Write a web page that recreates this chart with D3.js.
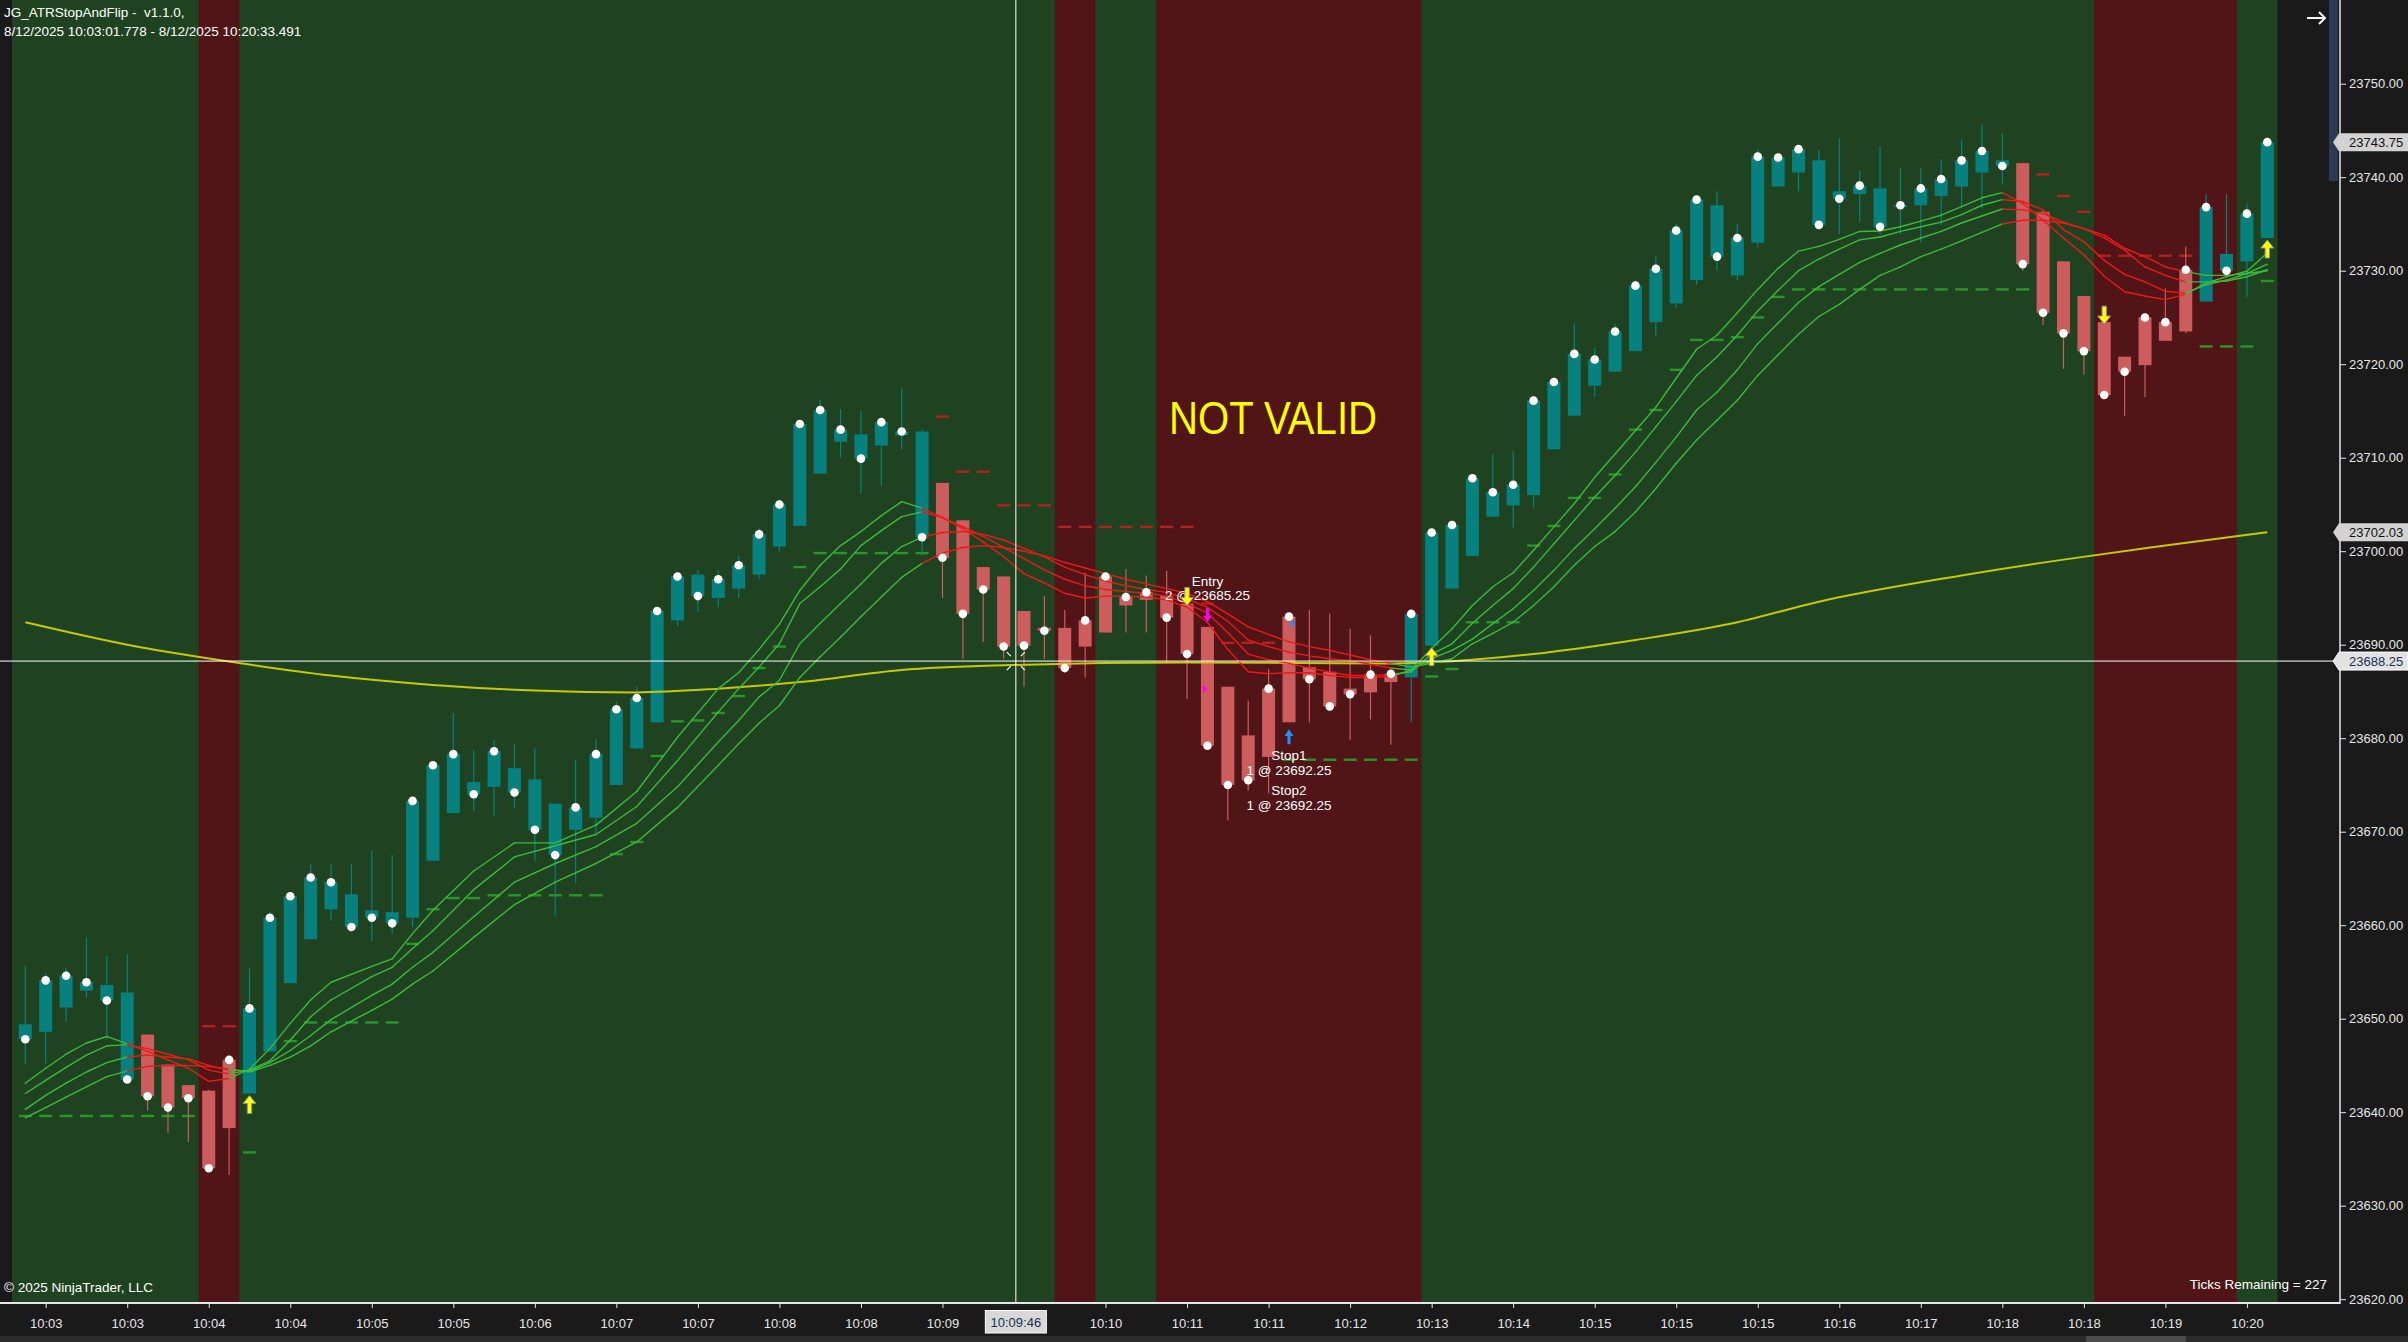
<!DOCTYPE html>
<html><head><meta charset="utf-8">
<script src="https://cdn.jsdelivr.net/npm/d3@7/dist/d3.min.js"></script>
<style>html,body{margin:0;padding:0;background:#1a1a1a;overflow:hidden}text{font-family:"Liberation Sans",Arial,sans-serif;white-space:pre}</style>
</head><body>
<svg id="c" width="2408" height="1342"></svg>
<script>
// ---------------- DATA ----------------
const opens = [23649.4,23648.6,23651.2,23653.0,23653.6,23652.8,23648.3,23645.1,23642.9,23642.3,
23638.3,23642.0,23646.5,23653.8,23658.5,23661.7,23663.3,23661.6,23661.4,23660.8,
23666.9,23672.0,23675.3,23674.8,23676.8,23675.6,23673.0,23670.2,23671.5,23675.0,
23678.9,23681.7,23692.6,23697.5,23695.0,23696.0,23697.5,23700.5,23702.7,23708.3,
23711.7,23712.5,23711.3,23712.4,23712.8,23707.3,23703.3,23698.3,23697.3,23693.6,
23691.8,23691.8,23689.8,23691.3,23694.2,23694.8,23695.2,23694.4,23691.9,23685.5,
23680.3,23678.0,23681.7,23687.6,23687.1,23685.3,23684.9,23686.0,23686.5,23689.9,
23696.0,23699.5,23703.7,23704.9,23706.0,23710.9,23714.5,23717.7,23719.2,23721.4,
23724.5,23726.5,23729.0,23737.0,23729.5,23733.0,23739.0,23740.5,23741.8,23738.5,
23738.2,23738.8,23736.8,23737.0,23738.0,23739.0,23740.5,23741.8,23741.5,23736.3,
23731.0,23727.3,23724.5,23720.8,23719.9,23722.5,23723.5,23726.7,23731.8,23731.0,23733.5];
const highs = [23655.7,23654.9,23655.4,23658.7,23656.7,23656.9,23648.3,23645.1,23642.9,23642.4,
23645.6,23655.4,23661.4,23663.2,23666.5,23666.5,23666.5,23668.0,23667.5,23673.3,
23677.1,23682.7,23678.7,23679.9,23679.4,23678.9,23673.0,23677.7,23679.9,23683.9,
23685.5,23694.0,23697.5,23698.0,23698.0,23699.5,23702.5,23705.5,23713.6,23716.2,
23715.2,23715.0,23713.8,23717.5,23713.0,23707.3,23703.3,23698.3,23697.3,23693.6,
23695.2,23693.7,23697.7,23697.5,23698.1,23697.4,23697.9,23694.4,23691.9,23685.5,
23684.0,23687.4,23693.0,23693.7,23693.3,23691.7,23691.0,23686.9,23693.3,23702.0,
23702.8,23708.1,23710.4,23710.7,23716.1,23718.6,23724.35,23721.7,23724.35,23729.0,
23731.5,23735.0,23738.0,23738.5,23735.0,23743.0,23742.5,23743.0,23742.9,23744.2,
23740.7,23743.3,23741.0,23741.0,23741.9,23744.0,23745.7,23744.7,23741.5,23736.3,
23731.0,23727.3,23724.5,23720.8,23725.0,23728.1,23732.6,23738.2,23738.2,23737.2,23743.8];
const lows = [23645.1,23645.2,23649.7,23652.3,23647.8,23643.4,23640.2,23637.8,23636.8,23634.0,
23633.3,23642.0,23646.5,23653.8,23658.5,23660.5,23659.8,23658.3,23659.1,23659.8,
23666.9,23672.0,23672.2,23671.7,23672.5,23666.9,23661.0,23664.5,23669.8,23675.0,
23678.9,23681.7,23692.0,23693.5,23694.0,23695.0,23697.0,23700.0,23702.7,23708.3,
23710.0,23706.2,23707.0,23710.9,23699.5,23695.0,23688.5,23690.3,23688.5,23685.5,
23688.5,23687.5,23686.5,23691.3,23691.3,23691.3,23688.0,23684.2,23679.2,23671.2,
23674.4,23674.1,23681.7,23681.7,23683.4,23679.8,23682.0,23679.3,23681.7,23689.9,
23696.0,23699.5,23703.7,23702.5,23704.7,23710.9,23714.5,23716.5,23719.2,23721.4,
23723.0,23726.0,23728.5,23730.0,23729.0,23732.5,23739.0,23738.5,23734.9,23733.9,
23735.2,23733.9,23733.9,23733.0,23734.9,23736.8,23736.7,23739.2,23730.0,23724.2,
23719.5,23718.9,23716.7,23714.5,23716.5,23722.5,23723.3,23726.7,23730.0,23727.2,23733.5];
const closes = [23647.8,23654.1,23654.6,23653.9,23651.95,23643.5,23641.7,23640.5,23641.5,23634.0,
23645.6,23651.1,23660.8,23663.1,23665.1,23664.6,23659.8,23660.8,23660.2,23673.3,
23677.1,23678.3,23674.0,23678.6,23674.2,23670.2,23667.5,23672.6,23678.3,23683.1,
23684.3,23693.6,23697.3,23695.2,23697.0,23698.5,23701.8,23705.0,23713.6,23715.1,
23713.0,23709.9,23713.8,23712.8,23701.5,23699.3,23693.3,23695.9,23689.8,23689.9,
23691.5,23687.5,23692.6,23697.3,23695.1,23695.6,23692.9,23689.0,23679.2,23675.0,
23675.5,23685.3,23693.0,23686.3,23683.4,23684.7,23686.8,23686.9,23693.3,23702.0,
23702.8,23707.8,23706.3,23707.1,23716.1,23718.1,23721.1,23720.5,23723.5,23728.4,
23730.2,23734.3,23737.6,23731.5,23733.5,23742.2,23742.1,23743.0,23734.9,23737.7,
23739.1,23734.7,23737.0,23738.8,23739.8,23741.8,23742.8,23741.2,23730.7,23725.5,
23723.3,23721.4,23716.7,23719.2,23725.0,23724.5,23730.1,23736.8,23730.0,23736.1,23743.75];
// trend state of each bar (U = up / teal, D = down / salmon), as runs
const trendRuns = [["U",6],["D",5],["U",34],["D",23],["U",30],["D",9],["U",4]];
// background regime bands (bar index ranges shown in red)
const redBands = [[9,10],[51,52],[56,68],[102,108]];
// trailing stop level per bar and its side (runs)
const stopLevels = [23639.6,23639.6,23639.6,23639.6,23639.6,23639.6,23639.6,23639.6,23639.6,23649.2,
23649.2,23635.7,23647.6,23647.6,23649.6,23649.6,23649.6,23649.6,23649.6,23658.0,
23661.7,23662.9,23662.9,23663.2,23663.2,23663.2,23663.2,23663.2,23663.2,23667.6,
23668.9,23678.1,23681.8,23681.9,23682.7,23684.5,23687.5,23689.8,23698.3,23699.8,
23699.8,23699.8,23699.8,23699.8,23699.8,23714.4,23708.5,23708.5,23704.9,23704.9,
23704.9,23702.6,23702.6,23702.6,23702.6,23702.6,23702.6,23702.6,23694.4,23690.2,
23690.2,23690.2,23677.7,23677.7,23677.7,23677.7,23677.7,23677.7,23677.7,23686.6,
23687.4,23692.4,23692.4,23692.4,23700.6,23702.7,23705.7,23705.7,23708.2,23713.0,
23715.1,23719.4,23722.6,23722.6,23722.9,23725.0,23727.2,23728.0,23728.0,23728.0,
23728.0,23728.0,23728.0,23728.0,23728.0,23728.0,23728.0,23728.0,23728.0,23740.3,
23738.0,23736.3,23731.6,23731.6,23731.6,23731.6,23731.6,23721.9,23721.9,23721.9,23728.9];
const stopSideRuns = [["L",9],["S",2],["L",34],["S",17],["L",37],["S",8],["L",4]];
// slow moving average (sampled bars)
const maBars = [0,5,10,15,20,25,30,34,38,43,48,57,67,74,79,84,88,95,100,105,110];
const maVals = [23692.4,23690.0,23688.2,23686.7,23685.7,23685.1,23684.9,23685.3,23686.0,23687.3,
23687.8,23688.1,23688.0,23689.0,23690.5,23692.4,23694.6,23697.4,23699.1,23700.6,23702.03];
// ribbon of four averages (sampled bars)
const ribbonBars = [0,1,2,3,4,5,6,7,8,9,10,11,12,13,14,15,17,18,19,20,22,24,26,28,30,32,34,35,36,37,38,39,40,41,42,43,
44,45,46,47,48,49,50,51,52,53,54,55,56,57,58,59,60,61,62,63,64,65,66,67,68,69,70,71,72,73,74,75,76,77,78,79,80,
81,82,83,84,85,86,87,88,89,90,91,92,93,94,95,96,97,98,99,100,101,102,103,104,105,106,107,108,109,110];
const ribbonA = [23643.1,23644.7,23646.2,23647.4,23648.1,23647.3,23646.5,23645.6,23644.7,23643.3,23643.6,23644.6,23646.8,23649.5,23652.0,23653.9,23655.6,23656.4,23659.1,23661.6,23665.8,23668.8,23668.8,23670.7,23674.3,23680.1,23685.3,23687.0,23689.5,23692.2,23695.8,23698.5,23700.6,23702.1,23703.8,23705.3,
23704.6,23703.6,23702.4,23701.0,23699.4,23697.6,23696.6,23695.5,23695.0,23695.2,23695.2,23695.1,23694.8,23694.0,23692.4,23689.5,23687.1,23686.9,23687.0,23687.0,23686.7,23686.5,23686.5,23686.6,23687.3,23689.6,23691.7,
23694.2,23696.2,23697.7,23700.1,23702.6,23705.1,23707.9,23710.4,23712.9,23715.4,23718.5,23721.6,23723.1,23725.5,23728.0,23730.25,23732.1,23732.6,23733.35,23734.2,23734.25,23734.7,23735.3,23735.95,23736.85,23737.8,23738.35,
23737.2,23735.4,23733.5,23731.7,23729.4,23727.75,23727.3,23726.9,23727.5,23728.7,23729.35,23729.95,23731.9];
const ribbonB = [23642.0,23643.4,23644.8,23646.1,23647.1,23647.2,23646.8,23646.2,23645.6,23644.5,23644.1,23644.5,23645.5,23647.7,23650.2,23652.0,23654.5,23655.5,23657.5,23659.4,23663.8,23667.3,23668.5,23669.7,23672.7,23677.6,23682.8,23685.3,23687.6,23690.1,23694.4,23696.2,23698.1,23700.6,23702.2,23703.7,
23704.2,23703.6,23702.6,23701.6,23700.4,23699.2,23698.0,23697.0,23696.3,23695.9,23695.7,23695.5,23695.2,23694.4,23693.4,23691.3,23689.0,23688.4,23688.0,23687.5,23687.1,23686.7,23686.7,23686.8,23687.1,23689.0,23690.1,
23692.3,23694.2,23696.0,23698.3,23700.8,23703.3,23705.8,23708.1,23710.6,23713.3,23716.0,23718.8,23720.8,23723.1,23725.7,23727.9,23730.0,23731.25,23732.3,23733.3,23733.6,23734.2,23734.7,23735.2,23736.0,23737.0,23737.6,
23737.4,23736.5,23734.4,23733.1,23731.1,23729.6,23728.8,23727.8,23727.6,23728.5,23729.0,23729.7,23730.7];
const ribbonC = [23640.3,23641.8,23643.1,23644.3,23645.3,23645.9,23646.1,23645.9,23645.7,23645.0,23644.5,23644.4,23645.3,23646.6,23648.2,23649.9,23652.5,23653.7,23655.5,23657.1,23660.9,23664.6,23666.6,23668.4,23670.9,23674.8,23679.6,23681.9,23684.4,23686.2,23690.1,23692.3,23694.4,23696.5,23698.7,23700.5,
23701.5,23702.0,23702.1,23701.8,23701.2,23700.3,23699.4,23698.3,23697.5,23696.8,23696.3,23695.9,23695.6,23694.9,23694.0,23692.5,23690.5,23689.8,23689.2,23688.8,23688.5,23688.3,23687.9,23687.5,23687.3,23688.5,23689.4,
23690.6,23692.25,23693.85,23695.8,23697.95,23700.3,23702.4,23704.6,23706.9,23709.5,23712.2,23715.1,23717.0,23719.4,23722.2,23724.4,23726.6,23728.3,23729.6,23730.9,23731.85,23732.75,23733.5,23734.2,23735.1,23735.85,23736.6,
23736.5,23736.1,23735.2,23734.5,23733.5,23732.2,23730.4,23729.5,23728.8,23728.8,23728.9,23729.35,23730.1];
const ribbonD = [23639.4,23640.5,23641.6,23642.7,23643.8,23644.4,23644.9,23645.0,23645.0,23644.9,23644.6,23644.3,23645.0,23645.9,23647.1,23648.6,23650.9,23652.1,23653.7,23655.1,23658.7,23662.2,23664.6,23666.6,23668.9,23672.6,23677.1,23679.4,23681.6,23683.5,23686.5,23688.7,23690.8,23693.0,23695.1,23697.2,
23698.7,23699.8,23700.4,23700.6,23700.4,23700.0,23699.5,23698.8,23698.2,23697.6,23697.0,23696.5,23696.0,23695.5,23694.6,23693.3,23691.9,23691.1,23690.3,23689.8,23689.4,23688.9,23688.4,23688.0,23687.6,23688.0,23688.5,
23690.1,23691.2,23692.4,23694.2,23696.2,23698.5,23700.5,23702.1,23704.2,23706.7,23709.4,23711.9,23714.0,23716.15,23718.8,23721.0,23723.2,23725.1,23726.4,23728.0,23729.5,23730.4,23731.5,23732.3,23733.2,23734.1,23735.0,
23735.4,23735.4,23735.1,23734.5,23733.8,23732.4,23731.5,23730.4,23729.9,23729.5,23729.5,23729.7,23730.0];
// signals and executions
const flipUpBars = [11,69,110];
const flipDownBars = [57,102];
const sellMarkBar = 58, buyMarkBar = 62;
const fills = [{bar:58, price:23685.25, side:"sell"},{bar:62, price:23692.25, side:"buy"}];
// axis labels
const yTicks = [23620,23630,23640,23650,23660,23670,23680,23690,23700,23710,23720,23730,23740,23750];
const xTickBars = [1,5,9,13,17,21,25,29,33,37,41,45,53,57,61,65,69,73,77,81,85,89,93,97,101,105,109];
const xTickLabels = ["10:03","10:03","10:04","10:04","10:05","10:05","10:06","10:07","10:07","10:08","10:08","10:09",
"10:10","10:11","10:11","10:12","10:13","10:14","10:15","10:15","10:15","10:16","10:17","10:18","10:18","10:19","10:20"];
const crossPrice = 23688.25, crossBar = 48.6, crossTime = "10:09:46";
const lastPrice = 23743.75, maLast = 23702.03;

// ---------------- DRAW ----------------
const W = 2408, H = 1342, plotBottom = 1302, axisX = 2340;
const svg = d3.select("#c");
const expand = runs => runs.flatMap(([v,n]) => Array(n).fill(v));
const trend = expand(trendRuns), stopSide = expand(stopSideRuns);
const x = d3.scaleLinear().domain([0,110]).range([25.3,2267.3]);
const y = d3.scaleLinear().domain([23620,23750]).range([1299.2,83.7]);
const half = (x(1)-x(0))/2;
const TEAL = "#078080", SALMON = "#cd5c5c";

svg.append("rect").attr("width",W).attr("height",H).attr("fill","#1a1a1a");
svg.append("rect").attr("x",12).attr("y",0).attr("width",x(110)+half-12).attr("height",plotBottom).attr("fill","#1f4320");
svg.selectAll("rect.band").data(redBands).join("rect").attr("class","band")
  .attr("x",d=>x(d[0])-half).attr("width",d=>x(d[1])-x(d[0])+2*half)
  .attr("y",0).attr("height",plotBottom).attr("fill","#511517");

// stop dashes
svg.append("g").selectAll("line").data(stopLevels).join("line")
  .attr("x1",(d,i)=>x(i)-6.5).attr("x2",(d,i)=>x(i)+6.5)
  .attr("y1",d=>y(d)).attr("y2",d=>y(d))
  .attr("stroke",(d,i)=>stopSide[i]==="L"?"#2a962a":"#b32222").attr("stroke-width",2.4);

// candles
const idx = d3.range(opens.length);
const cg = svg.append("g");
cg.selectAll("line").data(idx).join("line")
  .attr("x1",i=>x(i)).attr("x2",i=>x(i)).attr("y1",i=>y(highs[i])).attr("y2",i=>y(lows[i]))
  .attr("stroke",i=>trend[i]==="U"?TEAL:SALMON).attr("stroke-width",1.2);
cg.selectAll("rect").data(idx).join("rect")
  .attr("x",i=>x(i)-6.5).attr("width",13)
  .attr("y",i=>y(Math.max(opens[i],closes[i])))
  .attr("height",i=>Math.max(1.5,Math.abs(y(opens[i])-y(closes[i]))))
  .attr("fill",i=>trend[i]==="U"?TEAL:SALMON);

// slow MA
svg.append("path").datum(maBars.map((b,i)=>[b,maVals[i]]))
  .attr("d",d3.line().x(d=>x(d[0])).y(d=>y(d[1])).curve(d3.curveMonotoneX))
  .attr("fill","none").attr("stroke","#c9c900").attr("stroke-width",2);

// ribbon
const rg = svg.append("g");
[ribbonA,ribbonB,ribbonC,ribbonD].forEach(vals=>{
  for(let k=1;k<ribbonBars.length;k++){
    const b0=ribbonBars[k-1], b1=ribbonBars[k];
    rg.append("line").attr("x1",x(b0)).attr("y1",y(vals[k-1])).attr("x2",x(b1)).attr("y2",y(vals[k]))
      .attr("stroke",trend[b1]==="U"?"#3dba3d":"#f01818").attr("stroke-width",1.4).attr("stroke-linecap","round");
  }
});

// close dots
svg.append("g").selectAll("circle").data(idx).join("circle")
  .attr("cx",i=>x(i)).attr("cy",i=>y(closes[i])).attr("r",4.3).attr("fill","#fff");

// trade labels
const lab = svg.append("g").attr("fill","#fff").attr("font-size",13.5).attr("text-anchor","middle");
lab.append("text").attr("x",x(58)).attr("y",586).text("Entry");
lab.append("text").attr("x",x(58)).attr("y",600).text("2 @ 23685.25");
lab.append("text").attr("x",x(62)).attr("y",760).text("Stop1");
lab.append("text").attr("x",x(62)).attr("y",775).text("1 @ 23692.25");
lab.append("text").attr("x",x(62)).attr("y",795).text("Stop2");
lab.append("text").attr("x",x(62)).attr("y",810).text("1 @ 23692.25");

// arrows
function arrow(cx, tip, dir, w, h, fill, stroke){
  const hw=w/2, sw=w*0.17, hh=h*0.45, s=dir;
  const pts=[[cx,tip],[cx+hw,tip+s*hh],[cx+sw,tip+s*hh],[cx+sw,tip+s*h],[cx-sw,tip+s*h],[cx-sw,tip+s*hh],[cx-hw,tip+s*hh]];
  svg.append("polygon").attr("points",pts.map(p=>p.join(",")).join(" "))
    .attr("fill",fill).attr("stroke",stroke||"none").attr("stroke-width",1);
}
flipUpBars.forEach(b=>arrow(x(b), y(lows[b])+2, 1, 13, 18, "#ffff00", "#8c8c8c"));
flipDownBars.forEach(b=>arrow(x(b), y(highs[b])+2, -1, 13, 18, "#ffff00", "#8c8c8c"));
arrow(x(sellMarkBar), y(highs[sellMarkBar])-5, -1, 9, 14, "#ff00ff");
arrow(x(buyMarkBar), y(lows[buyMarkBar])+7, 1, 9, 15, "#1e90ff");
fills.forEach(f=>{
  const cy=y(f.price), cx=x(f.bar);
  const pts = f.side==="sell" ? [[cx-4.5,cy-4.5],[cx,cy],[cx-4.5,cy+4.5]] : [[cx+5,cy-4.5],[cx+0.5,cy],[cx+5,cy+4.5]];
  svg.append("polygon").attr("points",pts.map(p=>p.join(",")).join(" ")).attr("fill",f.side==="sell"?"#ff00ff":"#1e90ff");
});

// NOT VALID
svg.append("text").attr("x",1273).attr("y",434).attr("text-anchor","middle").attr("font-size",46)
  .attr("textLength",208).attr("lengthAdjust","spacingAndGlyphs").attr("fill","#ffff00").text("NOT VALID");

// crosshair
const cx0 = x(crossBar), cy0 = y(crossPrice);
svg.append("line").attr("x1",cx0).attr("x2",cx0).attr("y1",0).attr("y2",plotBottom).attr("stroke","#fff").attr("stroke-width",1);
svg.append("line").attr("x1",0).attr("x2",axisX-6).attr("y1",cy0).attr("y2",cy0).attr("stroke","#fff").attr("stroke-width",1);
[[-9,-9,-5,-5],[9,-9,5,-5],[-9,9,-5,5],[9,9,5,5]].forEach(d=>{
  svg.append("line").attr("x1",cx0+d[0]).attr("y1",cy0+d[1]).attr("x2",cx0+d[2]).attr("y2",cy0+d[3]).attr("stroke","#fff").attr("stroke-width",1.2);
});

// header / footer texts
const tg = svg.append("g").attr("fill","#fff").attr("font-size",13.5);
tg.append("text").attr("x",4).attr("y",17).text("JG_ATRStopAndFlip -  v1.1.0,");
tg.append("text").attr("x",4).attr("y",36).text("8/12/2025 10:03:01.778 - 8/12/2025 10:20:33.491");
tg.append("text").attr("x",4).attr("y",1292).text("© 2025 NinjaTrader, LLC");
tg.append("text").attr("x",2327).attr("y",1289).attr("text-anchor","end").text("Ticks Remaining = 227");

// scroll / navigation bits
svg.append("rect").attr("x",2329).attr("y",0).attr("width",9).attr("height",181).attr("fill","#2c3953");
svg.append("path").attr("d","M2307,18 L2325,18 M2319,12 L2325,18 L2319,24").attr("stroke","#fff").attr("stroke-width",2).attr("fill","none");
svg.append("rect").attr("x",0).attr("y",1336).attr("width",W).attr("height",6).attr("fill","#2c2c2c");
svg.append("rect").attr("x",2086).attr("y",1336).attr("width",100).attr("height",6).attr("fill","#4b4b4b");

// Y axis
const yAxis = d3.axisRight(y).tickValues(yTicks).tickFormat(d3.format(".2f")).tickSize(6).tickPadding(3);
const ya = svg.append("g").attr("transform",`translate(${axisX},0)`).call(yAxis);
ya.select(".domain").remove();
ya.selectAll("line").attr("stroke","#e6e6e6");
ya.selectAll("text").attr("fill","#e6e6e6").attr("font-size",13).attr("font-family","Liberation Sans, Arial, sans-serif");
svg.append("line").attr("x1",axisX).attr("x2",axisX).attr("y1",0).attr("y2",plotBottom+2).attr("stroke","#e6e6e6").attr("stroke-width",1.5);

// X axis
const xAxis = d3.axisBottom(x).tickValues(xTickBars).tickFormat((d,i)=>xTickLabels[i]).tickSize(5).tickPadding(11);
const xa = svg.append("g").attr("transform",`translate(0,${plotBottom+1})`).call(xAxis);
xa.select(".domain").remove();
xa.selectAll("line").attr("stroke","#e6e6e6");
xa.selectAll("text").attr("fill","#e6e6e6").attr("font-size",13).attr("font-family","Liberation Sans, Arial, sans-serif");
svg.append("line").attr("x1",0).attr("x2",axisX).attr("y1",plotBottom+1).attr("y2",plotBottom+1).attr("stroke","#e6e6e6").attr("stroke-width",2);

// price flags on the y axis
function flag(p, fill, stroke, tc){
  const cy=y(p);
  svg.append("path").attr("d",`M2333,${cy} L2339,${cy-9} L2408,${cy-9} L2408,${cy+9} L2339,${cy+9} Z`)
    .attr("fill",fill).attr("stroke",stroke||"none");
  svg.append("text").attr("x",2349).attr("y",cy+4.5).attr("font-size",13).attr("fill",tc).text(d3.format(".2f")(p));
}
flag(lastPrice,"#d2d2d2",null,"#111");
flag(maLast,"#d2d2d2",null,"#111");
flag(crossPrice,"#e2e2e2","#ffffff","#1b2f55");

// crosshair time flag
svg.append("rect").attr("x",cx0-30.5).attr("y",1310.5).attr("width",61).attr("height",22.5).attr("fill","#d8d8d8").attr("stroke","#fff");
svg.append("text").attr("x",cx0).attr("y",1327).attr("text-anchor","middle").attr("font-size",13).attr("fill","#1b2f55").text(crossTime);
</script>
</body></html>
